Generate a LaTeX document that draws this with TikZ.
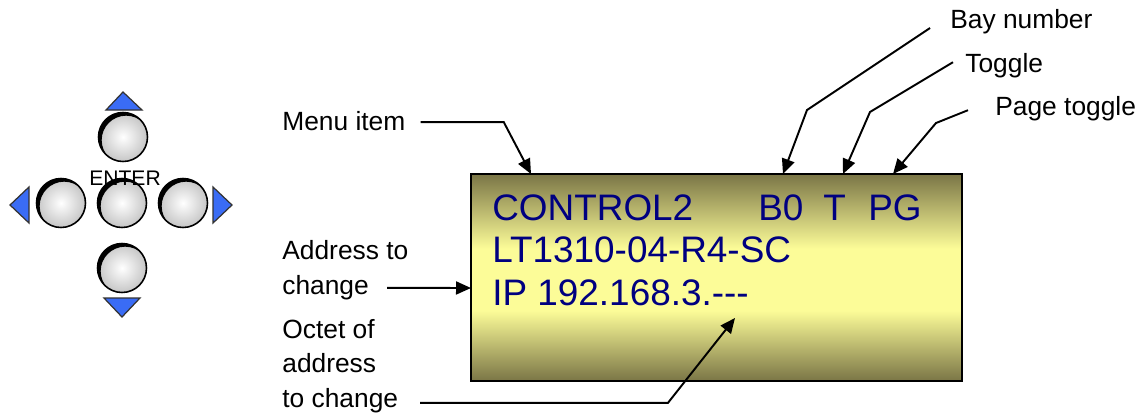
\documentclass[tikz,border=0pt]{standalone}
\usepackage{fontspec}
\setmainfont{Liberation Sans}
\usetikzlibrary{arrows.meta}

\definecolor{lcdolive}{RGB}{122,117,70}
\definecolor{lcdyellow}{RGB}{252,252,152}
\definecolor{lcdtext}{RGB}{0,0,128}
\definecolor{keyblue}{RGB}{58,108,245}

% dark edges, bright band in the middle of the display
\pgfdeclareverticalshading{lcdglow}{100bp}{color(0bp)=(lcdolive); color(25bp)=(lcdolive);
  color(42bp)=(lcdyellow); color(57bp)=(lcdyellow); color(75bp)=(lcdolive); color(100bp)=(lcdolive)}

\begin{document}
\begin{tikzpicture}[x=0.02cm,y=-0.02cm,
  notetext/.style={font=\fontsize{15}{19.5}\selectfont, inner sep=0pt, align=left, anchor=base west},
  lcdline/.style={font=\fontsize{21}{25}\selectfont, text=lcdtext, inner sep=0pt, anchor=base west},
  callout/.style={line width=1.1pt, -{Triangle[length=3mm,width=2.6mm]}},
  keybtn/.style={circle, draw=black, line width=0.9pt, minimum size=0.98cm, inner sep=0pt,
    inner color=white, outer color=gray!45,
    path picture={\fill[black,even odd rule] (path picture bounding box.center) circle (0.5cm)
      ([xshift=1.8pt,yshift=-1.8pt]path picture bounding box.center) circle (0.49cm);}},
  keyarrow/.style={fill=keyblue, draw=black!80, line width=0.7pt, line join=miter}]

  \useasboundingbox (0,0) rectangle (1143,417);

  %-----------------------------
  % Keypad: four arrow keys round the ENTER key
  \foreach \name/\pos in {kup/{(123,137)}, kleft/{(61,203)}, kenter/{(122,203)},
                          kright/{(183,203)}, kdown/{(122,268)}}
    \node[keybtn] (\name) at \pos {};
  \node[font=\fontsize{12}{14}\selectfont, inner sep=0pt] (enterlbl) at (125,178) {ENTER};

  % blue direction marks
  \filldraw[keyarrow] (106,110) -- (142,110) -- (123,92) -- cycle;
  \filldraw[keyarrow] (29,187) -- (29,223) -- (10,205) -- cycle;
  \filldraw[keyarrow] (213,187) -- (213,223) -- (232,205) -- cycle;
  \filldraw[keyarrow] (104,298) -- (140,298) -- (122,317) -- cycle;

  %-----------------------------
  % The display and its three rows
  \node[draw=black, line width=1.1pt, outer sep=0pt, minimum width=9.82cm, minimum height=4.14cm,
        shading=lcdglow] (lcd) at (716.5,277.5) {};
  \node[lcdline] (menufield) at (492,220) {CONTROL2};
  \node[lcdline] (bayfield) at (758,220) {B0};
  \node[lcdline] (togfield) at (823,220) {T};
  \node[lcdline] (pgfield) at (868,220) {PG};
  \node[lcdline] (modelrow) at (492,262) {LT1310-04-R4-SC};
  \node[lcdline] (iprow) at (492,305) {IP 192.168.3.-{}-{}-};

  %-----------------------------
  % Captions (base = last line)
  \node[notetext] (menulbl) at (282,130) {Menu item};
  \node[notetext] (baylbl) at (950,28) {Bay number};
  \node[notetext] (toglbl) at (965,72) {Toggle};
  \node[notetext] (pglbl) at (995,115) {Page toggle};
  \node[notetext] (addrlbl) at (282,294) {Address to\\change};
  \node[notetext] (octlbl) at (282,407) {Octet of\\address\\to change};

  % arrow ends on the display
  \coordinate (menutip) at (531,174);
  \coordinate (baytip) at (783,174);
  \coordinate (togtip) at (843,174);
  \coordinate (pgtip) at (893,174);
  \coordinate (addrtip) at (471,288);
  \coordinate (octtip) at (735,318);

  \draw[callout] ([xshift=0.3cm,yshift=-0.03cm]menulbl.east) -- ++(83,0) -- (menutip);
  \draw[callout] ([xshift=-0.4cm]baylbl.base west) -- (807,110) -- (baytip);
  \draw[callout] ([xshift=-0.24cm,yshift=0.06cm]toglbl.west) -- (870,112) -- (togtip);
  \draw[callout] ([xshift=-0.54cm,yshift=-0.04cm]pglbl.west) -- (936,123) -- (pgtip);
  \draw[callout] ([shift={(105,-12)}]addrlbl.south west) -- (addrtip);
  \draw[callout] ([shift={(138,-10)}]octlbl.south west) -- ++(248,0) -- (octtip);
\end{tikzpicture}
\end{document}
